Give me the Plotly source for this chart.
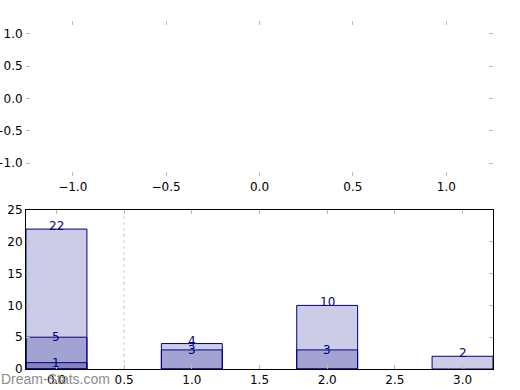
import plotly.graph_objects as go

categories = [0, 1, 2, 3]
series_a = [22, 4, 10, 2]
series_b = [5, 3, 3, 0]
series_c = [1, 0, 0, 0]
all_series = [series_a, series_b, series_c]
label_shift = [3, 0, 0]
ref_x = 0.5
bar_width = 0.45

fig = go.Figure()

# invisible trace on top axes so they render
fig.add_trace(go.Scatter(x=[], y=[], xaxis="x", yaxis="y", showlegend=False))

for s in all_series:
    xs = [c for c, v in zip(categories, s) if v > 0]
    ys = [v for v in s if v > 0]
    fig.add_trace(go.Bar(
        x=xs, y=ys, width=bar_width, xaxis="x2", yaxis="y2",
        marker=dict(color="rgba(0,0,128,0.2)", line=dict(color="navy", width=1)),
        showlegend=False, hoverinfo="skip"))

annotations = []
for s, sh in zip(all_series, label_shift):
    for c, v in zip(categories, s):
        if v > 0:
            annotations.append(dict(x=c, y=v, xref="x2", yref="y2", text=str(v),
                                    showarrow=False, yanchor="middle", xanchor="center", yshift=sh,
                                    font=dict(color="navy", size=12, family="DejaVu Sans")))
annotations.append(dict(x=0, y=0, xref="paper", yref="paper", xanchor="left", yanchor="top",
                        yshift=0, xshift=-27, text="Dream-Stats.com", showarrow=False,
                        font=dict(color="#8c8c8c", size=14, family="Liberation Sans")))

tick_common = dict(ticks="inside", ticklen=4, tickwidth=1, tickcolor="#bbbbbb",
                   showgrid=False, zeroline=False, automargin=False,
                   tickfont=dict(family="DejaVu Sans", size=12, color="black"))

fig.update_layout(
    width=520, height=390,
    margin=dict(l=26, r=27, t=21, b=21, autoexpand=False),
    paper_bgcolor="white", plot_bgcolor="white",
    barmode="overlay",
    xaxis=dict(domain=[0, 1], range=[-1.25, 1.25], anchor="y", tickvals=[-1, -0.5, 0, 0.5, 1],
               tickformat=".1f", showline=True, linecolor="rgba(0,0,0,0)", mirror="ticks", **tick_common),
    yaxis=dict(domain=[0.5546, 1], range=[-1.2, 1.2], anchor="x", tickvals=[-1, -0.5, 0, 0.5, 1],
               tickformat=".1f", showline=True, linecolor="rgba(0,0,0,0)", mirror="ticks", **tick_common),
    xaxis2=dict(domain=[0, 1], range=[-0.225, 3.225], anchor="y2", dtick=0.5, tick0=0,
                tickformat=".1f", showline=True, linecolor="black", linewidth=1, mirror="ticks", **tick_common),
    yaxis2=dict(domain=[0, 0.4569], range=[0, 25], anchor="x2", dtick=5, tick0=0,
                showline=True, linecolor="black", linewidth=1, mirror="ticks", **tick_common),
    annotations=annotations,
    shapes=[dict(type="line", xref="x2", yref="y2 domain", x0=ref_x, x1=ref_x, y0=0, y1=1,
                 line=dict(color="#cccccc", width=1, dash="dot"), layer="below")],
)

fig.write_html("out.html", config={"displayModeBar": False},
               post_script="document.body.style.margin='0';document.body.style.overflow='hidden';")
